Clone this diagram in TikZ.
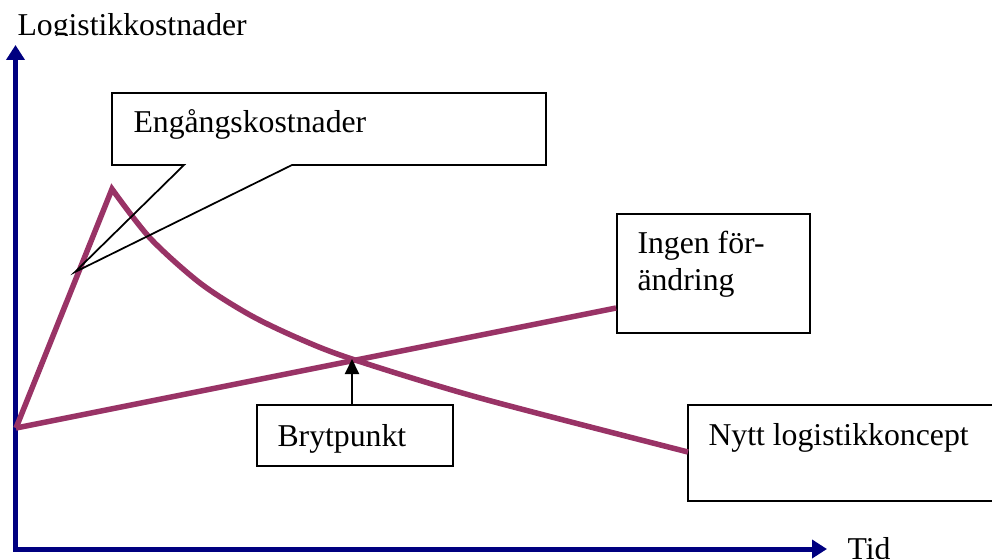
\documentclass[tikz,border=0pt]{standalone}
\usepackage{fontspec}
\setmainfont{Liberation Serif}
\usetikzlibrary{arrows.meta,calc}
\definecolor{axisblue}{RGB}{0,0,128}
\definecolor{costpurple}{RGB}{153,51,102}
\begin{document}
\begin{tikzpicture}[x=0.4pt,y=-0.4pt,
  lbl/.style={inner sep=0pt, anchor=base west, font=\fontsize{12.7pt}{15pt}\selectfont},
  box/.style={draw=black, line width=0.8pt, inner sep=0pt, anchor=north west},
  axis/.style={draw=axisblue, line width=2pt, line join=miter,
    {Triangle[width=7.2pt,length=6pt]}-{Triangle[width=7.2pt,length=6pt]}},
  cost/.style={draw=costpurple, line width=2.2pt, line join=miter},
  callout/.style={draw=black, line width=0.7pt, line join=miter},
  pointer/.style={draw=black, line width=0.8pt, -{Triangle[width=5.6pt,length=6pt]}}]

% page area
\clip (0,0) rectangle (992,559);

% axes
\coordinate (origin) at (15.5,549);
\coordinate (ytip) at (15.5,45);
\coordinate (xtip) at (827,549);
\draw[axis] (ytip) -- (origin) -- (xtip);

\begin{scope}
  \clip (0,0) rectangle (300,35.5);
  \node[lbl] (ylabel) at (17,35.5) {Logistikkostnader};
\end{scope}
\node[lbl] (xlabel) at (847,559) {Tid};

% label boxes
\node[box, minimum width=77.2pt, minimum height=47.6pt] (ingbox) at (616,213) {};
\node[lbl] (ing1) at (637,253) {Ingen för-};
\node[lbl] (ing2) at (637,290) {ändring};

\node[box, minimum width=129.2pt, minimum height=38.4pt] (nyttbox) at (687,404) {};
\node[lbl] (nytt) at (708,445) {Nytt logistikkoncept};

\node[box, minimum width=78.4pt, minimum height=24.4pt] (brytbox) at (256,404) {};
\node[lbl] (bryt) at (277,446) {Brytpunkt};

% cost curves
\coordinate (start) at (16,428);
\coordinate (peak) at (112,189);
\coordinate (cross) at (352,359);
\coordinate (ingend) at (ingbox.west |- 0,308);
\coordinate (nyttend) at (nyttbox.west |- 0,452);

\draw[cost] (start) -- (ingend);
\draw[cost] (start) -- (peak) -- plot[smooth, tension=0.5] coordinates
  {(112,189) (150,238) (200,283) (250,315) (300,339)
   (352,359) (480,398) (688,452)};

% break-even pointer
\draw[pointer] (cross |- brytbox.north) -- (cross);

% callout for one-time costs
\node[inner sep=0pt, anchor=north west, minimum width=173.2pt, minimum height=28.4pt] (eng) at (112,93) {};
\coordinate (tip) at (75,272);
\draw[callout] (eng.north west) -- (eng.north east) -- (eng.south east)
  -- ($(eng.south west)+(180,0)$) -- (tip) -- ($(eng.south west)+(72,0)$)
  -- (eng.south west) -- cycle;
\node[lbl] (engtxt) at (133,133) {Engångskostnader};
\end{tikzpicture}
\end{document}
